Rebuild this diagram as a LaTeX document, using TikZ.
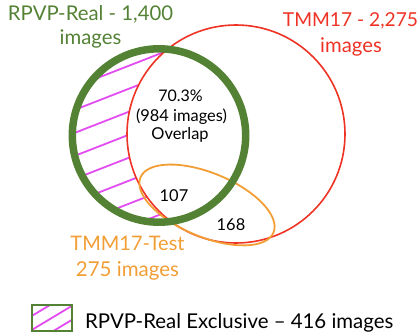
\documentclass[tikz,border=0pt]{standalone}
\usepackage{fontspec}
\setmainfont{Lato}
\definecolor{vgreen}{RGB}{84,130,53}
\definecolor{vred}{RGB}{238,50,36}
\definecolor{vorange}{RGB}{242,158,52}
\definecolor{vpink}{RGB}{226,76,240}
\begin{document}
\begin{tikzpicture}[x=1pt,y=-1pt,
  lbl/.style={inner sep=0pt, anchor=base},
  hatchline/.style={draw=vpink, line width=1.8pt},
  greenring/.style={draw=vgreen, line width=7.5pt},
  redring/.style={draw=vred, line width=1.6pt},
  orangering/.style={draw=vorange, line width=1.8pt}]
\useasboundingbox (0,0) rectangle (419,336);
\coordinate (G) at (159,135.5);
\coordinate (R) at (236,134);
\coordinate (O) at (207,205);
% hatch of the exclusive region
\begin{scope}
  \clip (G) circle[radius=84pt];
  \begin{scope}[even odd rule]
    \clip (0,0) rectangle (419,336) (R) circle[radius=109pt];
    \foreach \c in {93,116,...,277} \draw[hatchline] (0,\c) -- (300,\c-117);
  \end{scope}
\end{scope}
\draw[redring] (R) circle[radius=109pt];
\draw[orangering, rotate around={-22.5:(O)}] (O) ellipse[x radius=72pt, y radius=32pt];
\draw[greenring] (G) circle[radius=86.7pt];
% labels
\node[lbl, text=vgreen, font=\fontsize{20.3}{24}\selectfont] (t1) at (90.5,21) {RPVP-Real - 1,400};
\node[lbl, text=vgreen, font=\fontsize{20.3}{24}\selectfont] (t2) at (90.5,45) {images};
\node[lbl, text=vred, font=\fontsize{19.2}{24}\selectfont] (t3) at (350.5,27) {TMM17 - 2,275};
\node[lbl, text=vred, font=\fontsize{20.3}{24}\selectfont] (t4) at (351,53) {images};
\node[lbl, font=\fontsize{16}{19}\selectfont] (c1) at (180.5,101.5) {70.3\%};
\node[lbl, font=\fontsize{16.4}{19}\selectfont] (c2) at (181.5,122) {(984 images)};
\node[lbl, font=\fontsize{16.4}{19}\selectfont] (c3) at (180,140) {Overlap};
\node[lbl, font=\fontsize{16.4}{19}\selectfont] (n1) at (174,201.5) {107};
\node[lbl, font=\fontsize{16.4}{19}\selectfont] (n2) at (231,230) {168};
\node[lbl, text=vorange, font=\fontsize{20}{23}\selectfont] (t5) at (127.5,250) {TMM17-Test};
\node[lbl, text=vorange, font=\fontsize{20.5}{23}\selectfont] (t6) at (127.5,276.5) {275 images};
% legend
\begin{scope}
  \clip (32,305) rectangle (72,331);
  \foreach \c in {335,349,363} \draw[hatchline] (0,\c) -- (100,\c-60);
\end{scope}
\draw[draw=vgreen, line width=2.2pt] (32,305) rectangle (72,331);
\node[lbl, anchor=base west, font=\fontsize{20.4}{24}\selectfont] (lg) at (85,328) {RPVP-Real Exclusive – 416 images};
\end{tikzpicture}
\end{document}
